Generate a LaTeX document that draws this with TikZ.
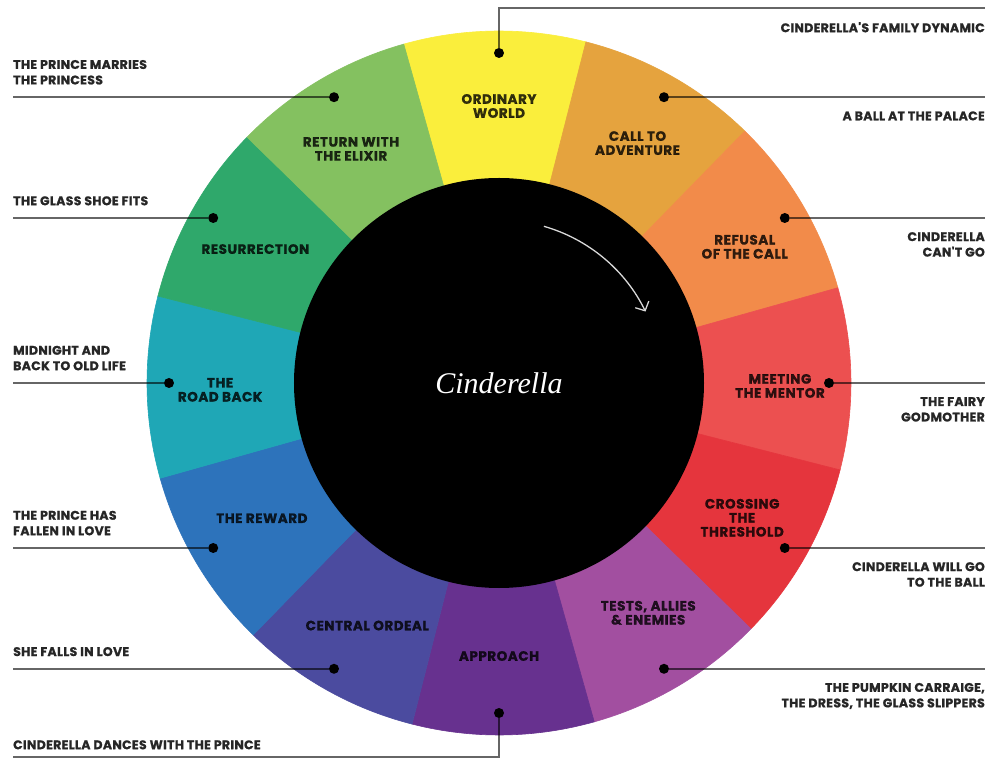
\documentclass[tikz,border=0pt]{standalone}
\usepackage{xcolor}
\usepackage{fontspec}
\setmainfont{Poppins}
\newfontfamily\stagefont{Poppins}[LetterSpace=4, BoldFeatures={FakeBold=1}]
\newfontfamily\notefont{Poppins}[LetterSpace=2.5, BoldFeatures={FakeBold=1}]
\newfontfamily\storyfont{Liberation Serif}
\usepackage{tikz}
\usetikzlibrary{arrows.meta,positioning}
\definecolor{cworld}{HTML}{FAEE3C}
\definecolor{ccall}{HTML}{E5A33E}
\definecolor{crefusal}{HTML}{F28B4A}
\definecolor{cmentor}{HTML}{EC5050}
\definecolor{ccrossing}{HTML}{E5353D}
\definecolor{ctests}{HTML}{A24FA0}
\definecolor{capproach}{HTML}{67318F}
\definecolor{cordeal}{HTML}{4B4B9F}
\definecolor{creward}{HTML}{2D73BB}
\definecolor{croadback}{HTML}{1FA7B6}
\definecolor{cresurrection}{HTML}{2FA86B}
\definecolor{creturn}{HTML}{84C160}
\tikzset{
  wslice/.style={line width=0.6pt},
  wstage/.style={align=center, inner sep=0pt, text=black, text opacity=0.8, font=\stagefont\bfseries\fontsize{13.5}{14}\selectfont},
  whub/.style={circle, fill=black, inner sep=0pt, minimum size=410pt, text=white, font=\storyfont\itshape\fontsize{30}{32}\selectfont},
  wdot/.style={circle, fill=black, inner sep=0pt, minimum size=10pt},
  wline/.style={draw=black, draw opacity=0.6, line width=2pt},
  wnoteleft/.style={align=left, inner sep=0pt, text=black!85, font=\notefont\bfseries\fontsize{12.5}{15.5}\selectfont},
  wnoteright/.style={align=right, inner sep=0pt, text=black!85, font=\notefont\bfseries\fontsize{12.5}{15.5}\selectfont},
  wturn/.style={-{Straight Barb[length=7pt,width=15pt]}, draw=white!85!black, line width=1.3pt}
}

\begin{document}
\begin{tikzpicture}[x=1pt,y=1pt]
\fill[white] (-499,-376) rectangle (488,383);
\useasboundingbox (-499,-376) rectangle (488,383);
\filldraw[wslice, fill=cworld, draw=cworld] (0,0) -- (75.7:352) arc[start angle=75.7, end angle=105.7, radius=352] -- cycle;
\filldraw[wslice, fill=ccall, draw=ccall] (0,0) -- (45.7:352) arc[start angle=45.7, end angle=75.7, radius=352] -- cycle;
\filldraw[wslice, fill=crefusal, draw=crefusal] (0,0) -- (15.7:352) arc[start angle=15.7, end angle=45.7, radius=352] -- cycle;
\filldraw[wslice, fill=cmentor, draw=cmentor] (0,0) -- (-14.3:352) arc[start angle=-14.3, end angle=15.7, radius=352] -- cycle;
\filldraw[wslice, fill=ccrossing, draw=ccrossing] (0,0) -- (-44.3:352) arc[start angle=-44.3, end angle=-14.3, radius=352] -- cycle;
\filldraw[wslice, fill=ctests, draw=ctests] (0,0) -- (-74.3:352) arc[start angle=-74.3, end angle=-44.3, radius=352] -- cycle;
\filldraw[wslice, fill=capproach, draw=capproach] (0,0) -- (-104.3:352) arc[start angle=-104.3, end angle=-74.3, radius=352] -- cycle;
\filldraw[wslice, fill=cordeal, draw=cordeal] (0,0) -- (-134.3:352) arc[start angle=-134.3, end angle=-104.3, radius=352] -- cycle;
\filldraw[wslice, fill=creward, draw=creward] (0,0) -- (-164.3:352) arc[start angle=-164.3, end angle=-134.3, radius=352] -- cycle;
\filldraw[wslice, fill=croadback, draw=croadback] (0,0) -- (165.7:352) arc[start angle=165.7, end angle=195.7, radius=352] -- cycle;
\filldraw[wslice, fill=cresurrection, draw=cresurrection] (0,0) -- (135.7:352) arc[start angle=135.7, end angle=165.7, radius=352] -- cycle;
\filldraw[wslice, fill=creturn, draw=creturn] (0,0) -- (105.7:352) arc[start angle=105.7, end angle=135.7, radius=352] -- cycle;
\node[whub] (hub) at (0,0) {Cinderella};
\draw[wturn] (74:163) arc[start angle=74, end angle=26, radius=163];
\node[wstage] (sworld) at (90:277) {ORDINARY\\WORLD};
\node[wstage] (scall) at (60:277) {CALL TO\\ADVENTURE};
\node[wstage] (srefusal) at (29:281) {REFUSAL\\OF THE CALL};
\node[wstage] (smentor) at (-0.6:281) {MEETING\\THE MENTOR};
\node[wstage] (scrossing) at (-29:278) {CROSSING\\THE\\THRESHOLD};
\node[wstage] (stests) at (-57:274) {TESTS, ALLIES\\\& ENEMIES};
\node[wstage] (sapproach) at (-90:273) {APPROACH};
\node[wstage] (sordeal) at (-118.5:276) {CENTRAL ORDEAL};
\node[wstage] (sreward) at (-150.3:273) {THE REWARD};
\node[wstage] (sroadback) at (181.4:279) {THE\\ROAD BACK};
\node[wstage] (sresurrection) at (151.2:278) {RESURRECTION};
\node[wstage] (sreturn) at (122.3:277) {RETURN WITH\\THE ELIXIR};
\node[wdot] (dworld) at (90:330) {};
\node[wdot] (dcall) at (60:330) {};
\node[wdot] (drefusal) at (30:330) {};
\node[wdot] (dmentor) at (0:330) {};
\node[wdot] (dcrossing) at (-30:330) {};
\node[wdot] (dtests) at (-60:330) {};
\node[wdot] (dapproach) at (-90:330) {};
\node[wdot] (dordeal) at (-120:330) {};
\node[wdot] (dreward) at (-150:330) {};
\node[wdot] (droadback) at (180:330) {};
\node[wdot] (dresurrection) at (150:330) {};
\node[wdot] (dreturn) at (120:330) {};
\coordinate (ledge) at (-486,0);
\coordinate (redge) at (486,0);
\coordinate (topend) at (486,375);
\coordinate (botend) at (-486,-374);
\draw[wline] (dworld) |- (topend);
\draw[wline] (dcall) -- (dcall -| redge) coordinate (ballend);
\draw[wline] (drefusal) -- (drefusal -| redge) coordinate (cantend);
\draw[wline] (dmentor) -- (dmentor -| redge) coordinate (fairyend);
\draw[wline] (dcrossing) -- (dcrossing -| redge) coordinate (willend);
\draw[wline] (dtests) -- (dtests -| redge) coordinate (pumpkinend);
\draw[wline] (dapproach) |- (botend);
\draw[wline] (dordeal) -- (dordeal -| ledge) coordinate (fallsend);
\draw[wline] (dreward) -- (dreward -| ledge) coordinate (fallenend);
\draw[wline] (droadback) -- (droadback -| ledge) coordinate (midnightend);
\draw[wline] (dresurrection) -- (dresurrection -| ledge) coordinate (shoeend);
\draw[wline] (dreturn) -- (dreturn -| ledge) coordinate (marriesend);
\node[wnoteright, below left=14pt and 0pt of topend] (nfamily) {CINDERELLA'S FAMILY DYNAMIC};
\node[wnoteright, below left=14pt and 0pt of ballend] (nball) {A BALL AT THE PALACE};
\node[wnoteright, below left=14pt and 0pt of cantend] (ncant) {CINDERELLA\\CAN'T GO};
\node[wnoteright, below left=14pt and 0pt of fairyend] (nfairy) {THE FAIRY\\GODMOTHER};
\node[wnoteright, below left=14pt and 0pt of willend] (nwill) {CINDERELLA WILL GO\\TO THE BALL};
\node[wnoteright, below left=14pt and 0pt of pumpkinend] (npumpkin) {THE PUMPKIN CARRAIGE,\\THE DRESS, THE GLASS SLIPPERS};
\node[wnoteleft, above right=7.5pt and 0pt of botend] (ndances) {CINDERELLA DANCES WITH THE PRINCE};
\node[wnoteleft, above right=12.5pt and 0pt of fallsend] (nfalls) {SHE FALLS IN LOVE};
\node[wnoteleft, above right=12.5pt and 0pt of fallenend] (nfallen) {THE PRINCE HAS\\FALLEN IN LOVE};
\node[wnoteleft, above right=12.5pt and 0pt of midnightend] (nmidnight) {MIDNIGHT AND\\BACK TO OLD LIFE};
\node[wnoteleft, above right=12.5pt and 0pt of shoeend] (nshoe) {THE GLASS SHOE FITS};
\node[wnoteleft, above right=12.5pt and 0pt of marriesend] (nmarries) {THE PRINCE MARRIES\\THE PRINCESS};
\end{tikzpicture}
\end{document}
